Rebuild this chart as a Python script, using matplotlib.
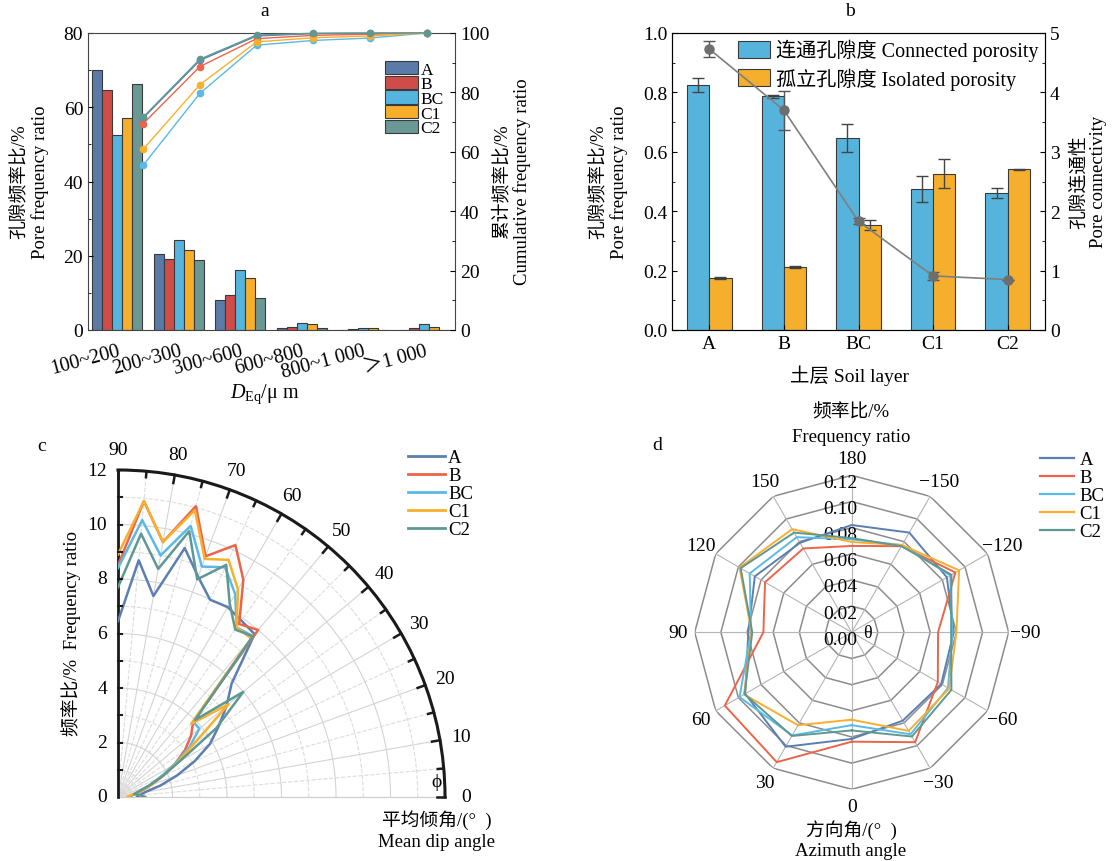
import numpy as np
import matplotlib
matplotlib.use('Agg')
import matplotlib.pyplot as plt
from matplotlib.lines import Line2D

plt.rcParams['font.family'] = ['Liberation Serif', 'Noto Sans CJK SC', 'DejaVu Serif']
plt.rcParams['axes.unicode_minus'] = False
plt.rcParams['font.size'] = 13
plt.rcParams['mathtext.fontset'] = 'custom'
plt.rcParams['mathtext.rm'] = 'Liberation Serif'
plt.rcParams['mathtext.it'] = 'Liberation Serif:italic'

W, H = 1113, 862

# ---------------- data ----------------
layers = ['A', 'B', 'BC', 'C1', 'C2']
bar_colors = ['#5a7ba8', '#d04c48', '#56b5df', '#f6ae2b', '#6a9894']
line_colors = ['#5b7fb0', '#ea654a', '#5ab9e6', '#f9af2e', '#5f9893']

# a: pore size distribution
size_classes = ['100~200', '200~300', '300~600', '600~800', '800~1 000', '＞1 000']
freq_A = [70.1, 20.6, 8.0, 0.6, 0.1, 0.1]
freq_B = [64.7, 19.2, 9.4, 0.9, 0.2, 0.5]
freq_BC = [52.5, 24.2, 16.1, 1.8, 0.6, 1.7]
freq_C1 = [57.1, 21.5, 14.1, 1.6, 0.5, 0.9]
freq_C2 = [66.3, 18.8, 8.5, 0.6, 0.1, 0.1]
cum_A = [71.4, 90.8, 99.0, 99.8, 99.9, 100]
cum_B = [69.5, 88.7, 98.1, 99.2, 99.6, 100]
cum_BC = [55.5, 79.7, 95.9, 97.5, 98.3, 100]
cum_C1 = [60.9, 82.6, 97.0, 98.4, 99.0, 100]
cum_C2 = [71.7, 91.2, 99.3, 99.9, 100, 100]

# b: porosity and connectivity
connected = [0.826, 0.787, 0.647, 0.475, 0.460]
connected_err = [0.024, 0.005, 0.046, 0.043, 0.017]
isolated = [0.175, 0.213, 0.353, 0.526, 0.541]
isolated_err = [0.002, 0.004, 0.016, 0.049, 0.002]
connectivity = [4.73, 3.70, 1.83, 0.91, 0.85]
connectivity_err = [0.14, 0.33, 0.05, 0.06, 0.0]

# c: mean dip angle (deg) vs frequency ratio (%)
dip = [90, 85, 80, 75, 70, 65, 60, 55, 50, 45, 40, 35, 30, 25, 20, 15, 10, 5, 0]
dip_A = [6.45, 8.72, 7.49, 9.46, 8.6, 7.99, 8.05, 7.9, 7.8, 5.9, 5.2, 4.5, 3.9, 3.1, 2.3, 1.6, 1.0, 0.8, 0.7]
dip_B = [8.5, 10.9, 9.5, 11.05, 9.4, 10.2, 9.2, 7.75, 8.0, 3.9, 3.5, 3.0, 2.4, 1.8, 1.3, 0.9, 0.6, 0.45, 0.4]
dip_BC = [8.4, 10.2, 9.0, 10.3, 9.0, 9.3, 8.6, 7.6, 7.7, 3.9, 3.9, 3.2, 2.4, 1.7, 1.2, 0.8, 0.6, 0.5, 0.5]
dip_C1 = [8.9, 10.9, 9.5, 10.9, 9.3, 9.6, 8.8, 7.6, 7.6, 3.8, 5.3, 3.4, 2.5, 1.8, 1.3, 0.9, 0.6, 0.4, 0.35]
dip_C2 = [7.7, 9.7, 8.5, 10.1, 8.5, 9.4, 8.2, 7.5, 7.7, 4.0, 6.0, 4.4, 2.6, 1.8, 1.2, 0.8, 0.6, 0.8, 1.0]

# d: azimuth angle (deg) vs frequency ratio
azimuth = [0, 30, 60, 90, 120, 150, 180, -150, -120, -90, -60, -30]
azimuth_labels = ['0', '30', '60', '90', '120', '150', '180', '−150', '−120', '−90', '−60', '−30']
az_A = [0.0815, 0.101, 0.094, 0.079, 0.0855, 0.079, 0.082, 0.088, 0.084, 0.078, 0.079, 0.078]
az_B = [0.0836, 0.1146, 0.112, 0.0675, 0.0765, 0.074, 0.066, 0.076, 0.0915, 0.066, 0.076, 0.097]
az_BC = [0.071, 0.091, 0.099, 0.077, 0.090, 0.084, 0.071, 0.077, 0.087, 0.077, 0.085, 0.090]
az_C1 = [0.0668, 0.082, 0.095, 0.0765, 0.099, 0.091, 0.069, 0.077, 0.0948, 0.080, 0.086, 0.087]
az_C2 = [0.075, 0.0915, 0.0945, 0.076, 0.098, 0.088, 0.072, 0.076, 0.088, 0.076, 0.088, 0.092]


def rect(x0, y0, x1, y1):
    # pixel box -> figure fraction
    return [x0 / W, 1 - y1 / H, (x1 - x0) / W, (y1 - y0) / H]


def ftext(x, y, s, **kw):
    fig.text(x / W, 1 - y / H, s, ha=kw.pop('ha', 'center'), va=kw.pop('va', 'center'), **kw)


fig = plt.figure(figsize=(W / 100, H / 100), dpi=100)

# ================= a =================
axa = fig.add_axes(rect(88, 34, 455, 331))
freqs = [freq_A, freq_B, freq_BC, freq_C1, freq_C2]
x = np.arange(len(size_classes))
bw = 0.163
for i, (f, c) in enumerate(zip(freqs, bar_colors)):
    axa.bar(x + (i - 2) * bw, f, bw, color=c, edgecolor='#3a3a3a', linewidth=0.8, label=layers[i])
axa.set_xlim(-0.48, 5.5)
axa.set_ylim(0, 80)
axa.set_yticks(range(0, 81, 20))
axa.set_yticks(range(10, 80, 20), minor=True)
axa.set_xticks(x)
axa.set_xticklabels(size_classes, rotation=15, ha='right', rotation_mode='anchor', fontsize=14.5)
axa.tick_params(axis='y', which='both', direction='in', labelsize=14)
axa.tick_params(axis='x', length=0, pad=8)
for s in axa.spines.values():
    s.set_color('#444444')
axa.legend(loc='upper left', bbox_to_anchor=(0.809, 0.905), frameon=False, fontsize=12.5,
           labelspacing=-0.12, handlelength=1.9, handleheight=0.8, handletextpad=0.15,
           borderpad=0, borderaxespad=0)

axa2 = fig.add_axes(rect(88, 34, 455, 331), frameon=False)
cums = [cum_A, cum_B, cum_BC, cum_C1, cum_C2]
xc = np.arange(len(size_classes))
for cu, c in zip(cums, line_colors):
    axa2.plot(xc, cu, color=c, lw=1.0, marker='o', ms=4.5, clip_on=False)
axa2.set_xlim(-0.975, 5.5)
axa2.set_ylim(0, 100)
axa2.set_xticks([])
axa2.yaxis.tick_right()
axa2.set_yticks(range(0, 101, 20))
axa2.set_yticks(range(10, 100, 20), minor=True)
axa2.tick_params(axis='y', which='both', direction='in', labelsize=14)

ftext(265, 12, 'a', fontsize=14)
ftext(30, 182, '孔隙频率比/%\nPore frequency ratio', rotation=90, fontsize=13.5, linespacing=1.15)
ftext(512, 182, '累计频率比/%\nCumulative frequency ratio', rotation=90, fontsize=13.5, linespacing=1.15)
ftext(265, 394, r'$D_{\mathrm{Eq}}$/μ m', fontsize=14.5)

# ================= b =================
axb = fig.add_axes(rect(672, 34, 1045, 331))
xb = np.arange(len(layers))
wb = 0.3
axb.bar(xb - wb / 2, connected, wb, yerr=connected_err, color='#56b4dc', edgecolor='#3a3a3a',
        linewidth=0.8, capsize=4, error_kw=dict(ecolor='#444444', elinewidth=1),
        label='连通孔隙度 Connected porosity')
axb.bar(xb + wb / 2, isolated, wb, yerr=isolated_err, color='#f6ae2d', edgecolor='#3a3a3a',
        linewidth=0.8, capsize=4, error_kw=dict(ecolor='#444444', elinewidth=1),
        label='孤立孔隙度 Isolated porosity')
axb.set_xlim(-0.5, 4.5)
axb.set_ylim(0, 1.0)
axb.set_xticks(xb)
axb.set_xticklabels(layers, fontsize=14)
axb.set_yticks(np.arange(0, 1.01, 0.2))
axb.set_yticklabels([f'{v:.1f}' for v in np.arange(0, 1.01, 0.2)])
axb.set_yticks(np.arange(0.1, 1.0, 0.2), minor=True)
axb.tick_params(axis='y', which='both', direction='in', labelsize=14)
axb.tick_params(axis='x', direction='in', labelsize=14)
for s in axb.spines.values():
    s.set_color('#444444')
axb.legend(loc='upper right', bbox_to_anchor=(1.0, 1.0), frameon=False, fontsize=14.5,
           labelspacing=0.3, handlelength=1.6, handleheight=0.9, handletextpad=0.3,
           borderpad=0.2, borderaxespad=0.1)

axb2 = axb.twinx()
axb2.errorbar(xb, connectivity, yerr=connectivity_err, color='#7f7f7f', lw=1.2, marker='o',
              ms=6.5, mfc='#6e6e6e', mec='#6e6e6e', ecolor='#555555', capsize=4, elinewidth=1)
axb2.set_ylim(0, 5)
axb2.set_yticks(range(0, 6))
axb2.set_yticks(np.arange(0.5, 5, 1), minor=True)
axb2.tick_params(axis='y', which='both', direction='in', labelsize=14)

ftext(850, 12, 'b', fontsize=14)
ftext(609, 182, '孔隙频率比/%\nPore frequency ratio', rotation=90, fontsize=13.5, linespacing=1.15)
ftext(1089, 182, '孔隙连通性\nPore connectivity', rotation=90, fontsize=13.5, linespacing=1.15)
ftext(850, 376, '土层 Soil layer', fontsize=14)

# ================= c =================
axc = fig.add_axes(rect(118, 471, 445, 798), projection='polar')
axc.set_thetamin(0)
axc.set_thetamax(90)
axc.set_ylim(0, 12)
dips = [dip_A, dip_B, dip_BC, dip_C1, dip_C2]
th_c = np.deg2rad(dip)
for d, c, lab in zip(dips, line_colors, layers):
    axc.plot(th_c, d, color=c, lw=1.8, label=lab, zorder=3)
axc.set_xticks(np.deg2rad(np.arange(0, 91, 10)))
axc.set_xticklabels([str(v) for v in range(0, 91, 10)], fontsize=14)
axc.set_xticks(np.deg2rad(np.arange(5, 90, 10)), minor=True)
axc.set_yticks(np.arange(0, 13, 2))
axc.set_yticks(np.arange(1, 12, 2), minor=True)
axc.set_yticklabels([])
axc.tick_params(axis='x', which='both', length=0, pad=8)
axc.tick_params(axis='y', which='both', length=0)
axc.xaxis.grid(True, which='major', color='#d4d4d4', lw=0.8, ls='-')
axc.xaxis.grid(True, which='minor', color='#dcdcdc', lw=0.8, ls='--')
axc.yaxis.grid(True, which='major', color='#d4d4d4', lw=0.8, ls='-')
axc.yaxis.grid(True, which='minor', color='#dcdcdc', lw=0.8, ls='--')
axc.spines['polar'].set_linewidth(2.2)
axc.spines['polar'].set_color('#1a1a1a')
axc.spines['end'].set_linewidth(2.0)
axc.spines['end'].set_color('#1a1a1a')
axc.spines['start'].set_linewidth(0.8)
axc.spines['start'].set_color('#cccccc')
# inward tick marks on the outer arc (every 5 deg) and on the vertical axis (every 1)
for a in range(0, 91, 5):
    tl = 0.3 if a % 10 == 0 else 0.22
    axc.plot([np.deg2rad(a)] * 2, [12 - tl, 12], color='#1a1a1a', lw=1.8, clip_on=False, zorder=4)
for v in range(1, 13):
    d = 0.16
    axc.plot([np.pi / 2, np.arctan2(v, d)], [v, np.hypot(v, d)], color='#1a1a1a', lw=1.5,
             clip_on=False, zorder=4)
for v in range(0, 13, 2):
    axc.annotate(str(v), xy=(np.pi / 2, v), xytext=(-8, 0), textcoords='offset points',
                 ha='right', va='center', fontsize=14)
axc.text(np.deg2rad(2.7), 11.7, 'ϕ', ha='center', va='center', fontsize=14)

ftext(42, 447, 'c', fontsize=14)
ftext(71, 634, '频率比/%  Frequency ratio', rotation=90, fontsize=13.5)
ftext(437, 820, '平均倾角/(°  )', fontsize=13.5)
ftext(437, 843, 'Mean dip angle', fontsize=13.5)
fig.legend(handles=[Line2D([], [], color=c, lw=2) for c in line_colors], labels=layers,
           loc='upper left', bbox_to_anchor=(408 / W, 1 - 450 / H), frameon=False, fontsize=13.5,
           labelspacing=0.05, handlelength=1.95, handletextpad=0.2, borderpad=0, borderaxespad=0)

# ================= d =================
axd = fig.add_axes(rect(851.7 - 157, 633.3 - 157, 851.7 + 157, 633.3 + 157), projection='polar')
axd.set_theta_zero_location('S')
axd.set_theta_direction(-1)
axd.set_ylim(0, 0.12)
axd.grid(False)
axd.spines['polar'].set_visible(False)
axd.set_xticks([])
axd.set_yticks([])
th_d = np.deg2rad(azimuth + [azimuth[0]])
levels = np.arange(0.02, 0.121, 0.02)
for lev in levels:
    axd.plot(th_d, [lev] * len(th_d), color='#8c8c8c', lw=1.1, zorder=1)
for a in azimuth:
    axd.plot([np.deg2rad(a)] * 2, [0, 0.12], color='#b4b4b4', lw=0.8, zorder=1)
azs = [az_A, az_B, az_BC, az_C1, az_C2]
for vals, c in zip(azs, line_colors):
    axd.plot(th_d, vals + [vals[0]], color=c, lw=1.4, zorder=3)
for a, lab in zip(azimuth, azimuth_labels):
    axd.text(np.deg2rad(a), 0.133, lab, ha='center', va='center', fontsize=14)
for lev in np.arange(0, 0.121, 0.02):
    axd.annotate(f'{lev:.2f}', xy=(np.pi, lev), xytext=(-8, -5), textcoords='offset points',
                 ha='center', va='center', fontsize=14, zorder=2)
axd.annotate('θ', xy=(0, 0), xytext=(11, 0), textcoords='offset points', ha='center', va='center',
             fontsize=13)

ftext(657, 446, 'd', fontsize=14)
ftext(851, 413, '频率比/%', fontsize=13.5)
ftext(851, 438, 'Frequency ratio', fontsize=13.5)
ftext(851, 830, '方向角/(°  )', fontsize=13.5)
ftext(851, 852, 'Azimuth angle', fontsize=13.5)
fig.legend(handles=[Line2D([], [], color=c, lw=1.6) for c in line_colors], labels=layers,
           loc='upper left', bbox_to_anchor=(1040 / W, 1 - 452 / H), frameon=False, fontsize=13.5,
           labelspacing=0.05, handlelength=1.8, handletextpad=0.3, borderpad=0, borderaxespad=0)

fig.savefig('out.png', dpi=100)
